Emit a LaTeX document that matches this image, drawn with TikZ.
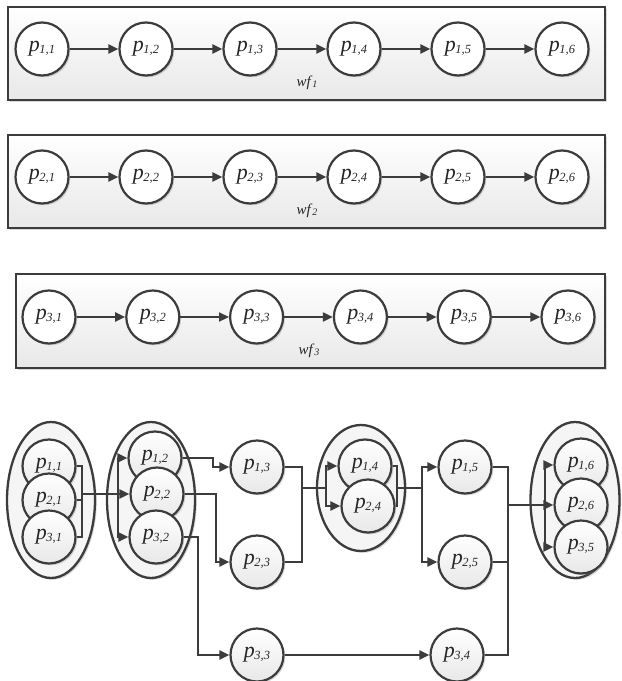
\documentclass[tikz,border=0pt]{standalone}
\usepackage{fontspec}
\setmainfont{Liberation Serif}
\usetikzlibrary{arrows.meta,shapes.geometric,shadows}
\definecolor{ink}{RGB}{60,60,60}
\newcommand{\pl}[2]{\textit{p}\kern-0.5bp\raisebox{-1.5bp}{\fontsize{12.5}{12.5}\selectfont\textit{#1,#2}}}
\newcommand{\wfl}[1]{\textit{wf}\raisebox{-0.5bp}{\fontsize{10}{10}\selectfont\textit{#1}}}
\begin{document}
\begin{tikzpicture}[x=1bp,y=-1bp,
  shad/.style={drop shadow={shadow xshift=1.8bp,shadow yshift=-1.8bp,opacity=0.3}},
  wfbox/.style={rectangle,draw=ink,line width=2.4bp,top color=white,bottom color=black!9,shad,inner sep=0pt},
  proc/.style={circle,draw=ink,line width=2.2bp,minimum size=53bp,inner sep=0pt,fill=white,shad,
    text=black!85,font=\fontsize{22}{22}\selectfont},
  bproc/.style={proc,top color=white,bottom color=black!9},
  grp/.style={ellipse,draw=ink,line width=2.3bp,fill=black!4,inner sep=0pt,shad},
  ln/.style={draw=ink,line width=2.2bp},
  arr/.style={ln,-{Triangle[length=10bp,width=9bp]}},
  lab/.style={font=\fontsize{15}{15}\selectfont,text=black!85,inner sep=0pt}
]
\useasboundingbox (0,0) rectangle (622,681);

% ---------- three workflow boxes ----------
\node[wfbox,minimum width=597bp,minimum height=93bp] (box1) at (306.5,53.5) {};
\node[wfbox,minimum width=597bp,minimum height=93bp] (box2) at (306.5,181.5) {};
\node[wfbox,minimum width=589bp,minimum height=94bp] (box3) at (310.5,321) {};
\node[lab] (wf1) at (307,83) {\wfl{1}};
\node[lab] (wf2) at (307,211) {\wfl{2}};
\node[lab] (wf3) at (309,351) {\wfl{3}};

\foreach \j in {1,...,6} {
  \node[proc] (t1\j) at ({42+104*(\j-1)},49) {\pl{1}{\j}};
  \node[proc] (t2\j) at ({42+104*(\j-1)},177) {\pl{2}{\j}};
  \node[proc] (t3\j) at ({49+103.8*(\j-1)},317) {\pl{3}{\j}};
}
\foreach \i in {1,2,3} {
  \foreach \j [evaluate=\j as \k using int(\j+1)] in {1,...,5} {
    \draw[arr] (t\i\j) -- (t\i\k);
  }
}

% ---------- merged graph ----------
\node[grp,minimum width=88bp,minimum height=156bp] (g1) at (51,500) {};
\node[grp,minimum width=88bp,minimum height=156bp] (g2) at (151,500) {};
\node[grp,minimum width=88bp,minimum height=126bp] (g3) at (361,488) {};
\node[grp,minimum width=89bp,minimum height=156bp] (g4) at (575,500) {};

\node[bproc] (b11) at (49,466) {\pl{1}{1}};
\node[bproc] (b21) at (49,500) {\pl{2}{1}};
\node[bproc] (b31) at (49,537) {\pl{3}{1}};
\node[bproc] (b12) at (155,458) {\pl{1}{2}};
\node[bproc] (b22) at (157,494) {\pl{2}{2}};
\node[bproc] (b32) at (156,537) {\pl{3}{2}};
\node[bproc] (b13) at (257,467) {\pl{1}{3}};
\node[bproc] (b23) at (257,562) {\pl{2}{3}};
\node[bproc] (b33) at (257,655) {\pl{3}{3}};
\node[bproc] (b14) at (365,466) {\pl{1}{4}};
\node[bproc] (b24) at (368,506) {\pl{2}{4}};
\node[bproc] (b15) at (465,467) {\pl{1}{5}};
\node[bproc] (b25) at (465,562) {\pl{2}{5}};
\node[bproc] (b34) at (457,655) {\pl{3}{4}};
\node[bproc] (b16) at (581,465) {\pl{1}{6}};
\node[bproc] (b26) at (581,505) {\pl{2}{6}};
\node[bproc] (b35) at (581,547) {\pl{3}{5}};

\coordinate (A) at (82,0);
\coordinate (B) at (118,0);
\coordinate (C1) at (213,0);
\coordinate (C2) at (216,0);
\coordinate (C3) at (198,0);
\coordinate (D) at (302,0);
\coordinate (E) at (326,0);
\coordinate (F) at (397,0);
\coordinate (G) at (422,0);
\coordinate (H) at (508,0);
\coordinate (I) at (545,0);
\coordinate (M3) at (0,488);

\draw[ln] (b11.east) -| (b31.east -| A) -- (b31.east);
\draw[ln] (b21.east) -- (b21.east -| A);
\draw[arr] (b22.west -| A) -- (b22.west);
\draw[arr] (b22.west -| B) |- (b12.west);
\draw[arr] (b22.west -| B) |- (b32.west);

\draw[arr] (b12.east) -- (b12.east -| C1) |- (b13.west);
\draw[arr] (b22.east) -- (b22.east -| C2) |- (b23.west);
\draw[arr] (b32.east) -- (b32.east -| C3) |- (b33.west);

\draw[ln] (b13.east) -| (b23.east -| D) -- (b23.east);
\draw[ln] (M3 -| D) -- (M3 -| E);
\draw[arr] (M3 -| E) |- (b14.west);
\draw[arr] (M3 -| E) |- (b24.west);

\draw[ln] (b14.east) -| (b24.east -| F) -- (b24.east);
\draw[ln] (M3 -| F) -- (M3 -| G);
\draw[arr] (M3 -| G) |- (b15.west);
\draw[arr] (M3 -| G) |- (b25.west);

\draw[ln] (b15.east) -| (b34.east -| H) -- (b34.east);
\draw[ln] (b25.east) -- (b25.east -| H);
\draw[arr] (b26.west -| H) -- (b26.west);
\draw[arr] (b26.west -| I) |- (b16.west);
\draw[arr] (b26.west -| I) |- (b35.west);

\draw[arr] (b33) -- (b34);
\end{tikzpicture}
\end{document}
